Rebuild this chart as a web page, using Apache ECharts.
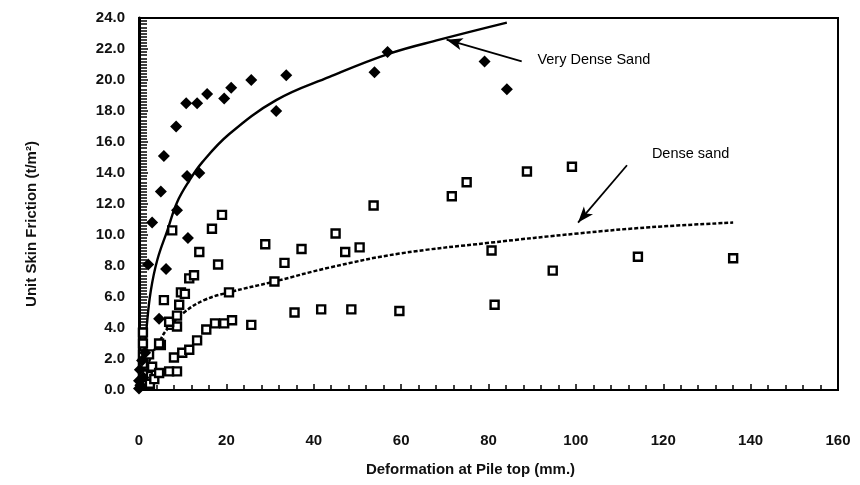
<!DOCTYPE html>
<html>
<head>
<meta charset="utf-8">
<script src="https://cdn.jsdelivr.net/npm/echarts@6/dist/echarts.min.js"></script>
<style>
html,body{margin:0;padding:0;background:#fff;}
#chart{width:860px;height:485px;}
</style>
</head>
<body>
<div id="chart"></div>
<script>
// ---- data ----
const xTickValues = [0, 20, 40, 60, 80, 100, 120, 140, 160];
const yTickValues = [0, 2, 4, 6, 8, 10, 12, 14, 16, 18, 20, 22, 24];

// Very Dense Sand measurements (filled diamonds)
const veryDensePoints = [
  [0.0,0.1],[0.0,0.6],[0.3,0.3],[1.0,0.8],[0.2,1.3],[0.7,1.9],[1.4,2.4],
  [4.6,4.6],[2.1,8.1],[6.2,7.8],[3.0,10.8],[11.2,9.8],[8.7,11.6],[5.0,12.8],
  [11.0,13.8],[13.8,14.0],[5.7,15.1],[8.5,17.0],[10.8,18.5],[13.3,18.5],
  [15.6,19.1],[19.5,18.8],[21.1,19.5],[25.7,20.0],[31.4,18.0],[33.7,20.3],
  [53.9,20.5],[56.9,21.8],[79.1,21.2],[84.2,19.4]
];

// Dense sand measurements (open squares)
const denseSandPoints = [
  [0.5,0.3],[1.2,0.6],[2.0,0.9],[2.5,0.4],[3.5,0.7],[0.9,1.0],[0.9,1.7],
  [0.9,2.3],[0.9,3.0],[0.9,3.7],[3.0,1.5],[4.6,1.1],[6.9,1.2],[8.7,1.2],
  [2.3,2.3],[5.0,2.9],[4.6,3.0],[8.0,2.1],[9.9,2.4],[11.5,2.6],[13.3,3.2],
  [15.4,3.9],[17.4,4.3],[19.5,4.3],[21.3,4.5],[25.7,4.2],[7.3,4.2],[8.7,4.1],
  [6.9,4.4],[8.7,4.8],[9.2,5.5],[9.6,6.3],[10.5,6.2],[5.7,5.8],[20.6,6.3],
  [11.5,7.2],[12.6,7.4],[31.0,7.0],[18.1,8.1],[33.3,8.2],[13.8,8.9],[28.9,9.4],
  [37.2,9.1],[47.2,8.9],[50.5,9.2],[7.6,10.3],[16.7,10.4],[45.0,10.1],
  [19.0,11.3],[53.7,11.9],[35.6,5.0],[41.7,5.2],[48.6,5.2],[59.6,5.1],
  [81.4,5.5],[80.7,9.0],[94.7,7.7],[114.2,8.6],[136.0,8.5],
  [71.6,12.5],[75.0,13.4],[88.8,14.1],[99.1,14.4]
];

// Fitted trend lines as drawn in the reference
const veryDenseCurve = [
  [0.8,0],[1.2,2.0],[1.8,4.2],[2.7,6.4],[4.2,8.4],[6.5,10.3],[8.7,12.1],
  [11.5,13.5],[14.5,14.7],[20.6,16.5],[31.4,18.7],[43.6,20.2],[57.3,21.7],
  [68.8,22.6],[84.2,23.7]
];
const denseSandCurve = [
  [0,0],[1.5,1.2],[3.0,2.3],[4.6,3.1],[6.4,3.9],[10.3,5.0],[14.9,5.8],
  [20.6,6.3],[31.0,7.0],[43.6,7.9],[59.6,8.8],[80.3,9.5],[100.5,10.1],
  [117.0,10.5],[136.0,10.8]
];

// Annotations (data coordinates)
const veryDenseLabel = {text: 'Very Dense Sand', at: [91.2, 21.3]};
const denseSandLabel = {text: 'Dense sand', at: [117.4, 15.2]};
const veryDenseArrow = [[87.6, 21.2], [70.4, 22.6]];
const denseSandArrow = [[111.7, 14.5], [100.5, 10.8]];

const FONT = '"Liberation Sans", Arial, sans-serif';

const chart = echarts.init(document.getElementById('chart'), null, {renderer: 'canvas'});

chart.setOption({
  backgroundColor: '#ffffff',
  animation: false,
  grid: {
    left: 139, right: 22, top: 18, bottom: 95,
    show: true, borderColor: '#000', borderWidth: 2, backgroundColor: 'transparent'
  },
  xAxis: {
    type: 'value', min: 0, max: 160, interval: 20,
    name: 'Deformation at Pile top (mm.)',
    nameLocation: 'middle', nameGap: 72,
    nameTextStyle: {fontFamily: FONT, fontSize: 15, fontWeight: 'bold', color: '#111', padding: [0, 36, 0, 0]},
    axisLine: {show: true, lineStyle: {color: '#000', width: 2}},
    axisTick: {show: true, inside: true, length: 6, lineStyle: {color: '#000', width: 1.5}},
    minorTick: {show: true, splitNumber: 5, length: 5, lineStyle: {color: '#000', width: 1.5}},
    splitLine: {show: false},
    axisLabel: {
      margin: 43, fontFamily: FONT, fontSize: 15, fontWeight: 'bold', color: '#111',
      customValues: xTickValues
    }
  },
  yAxis: {
    type: 'value', min: 0, max: 24, interval: 2,
    name: 'Unit Skin Friction (t/m²)',
    nameLocation: 'middle', nameGap: 100,
    nameTextStyle: {fontFamily: FONT, fontSize: 15, fontWeight: 'bold', color: '#111', padding: [0, 40, 0, 0]},
    axisLine: {show: true, lineStyle: {color: '#000', width: 3}},
    axisTick: {show: true, inside: true, length: 9, lineStyle: {color: '#000', width: 1.5}},
    minorTick: {show: true, splitNumber: 10, length: 8, lineStyle: {color: '#000', width: 1.5}},
    splitLine: {show: false},
    axisLabel: {
      margin: 14, fontFamily: FONT, fontSize: 15, fontWeight: 'bold', color: '#111',
      customValues: yTickValues,
      formatter: v => v.toFixed(1)
    }
  },
  series: [
    {
      name: 'Very Dense Sand curve', type: 'line', data: veryDenseCurve,
      smooth: 0.4, showSymbol: false, silent: true,
      lineStyle: {color: '#000', width: 2.4}, z: 2,
      markLine: {
        silent: true, symbol: ['none', 'arrow'], symbolSize: [9, 16],
        lineStyle: {color: '#000', width: 1.8, type: 'solid'},
        label: {show: false},
        data: [[{coord: veryDenseArrow[0]}, {coord: veryDenseArrow[1]}]]
      },
      markPoint: {
        silent: true, symbol: 'circle', symbolSize: 0,
        label: {show: true, position: 'right', distance: 0, formatter: veryDenseLabel.text,
          fontFamily: FONT, fontSize: 14.5, color: '#000'},
        data: [{coord: veryDenseLabel.at}]
      }
    },
    {
      name: 'Dense sand curve', type: 'line', data: denseSandCurve,
      smooth: 0.4, showSymbol: false, silent: true,
      lineStyle: {color: '#000', width: 2.5, type: [4, 2]}, z: 2,
      markLine: {
        silent: true, symbol: ['none', 'arrow'], symbolSize: [9, 16],
        lineStyle: {color: '#000', width: 1.8, type: 'solid'},
        label: {show: false},
        data: [[{coord: denseSandArrow[0]}, {coord: denseSandArrow[1]}]]
      },
      markPoint: {
        silent: true, symbol: 'circle', symbolSize: 0,
        label: {show: true, position: 'right', distance: 0, formatter: denseSandLabel.text,
          fontFamily: FONT, fontSize: 14.5, color: '#000'},
        data: [{coord: denseSandLabel.at}]
      }
    },
    {
      name: 'Dense sand', type: 'scatter', data: denseSandPoints,
      symbol: 'rect', symbolSize: 8,
      itemStyle: {color: '#fff', borderColor: '#000', borderWidth: 2.4, opacity: 1}, z: 3
    },
    {
      name: 'Very Dense Sand', type: 'scatter', data: veryDensePoints,
      symbol: 'diamond', symbolSize: 12,
      itemStyle: {color: '#000', opacity: 1}, z: 4
    }
  ]
});
</script>
</body>
</html>
